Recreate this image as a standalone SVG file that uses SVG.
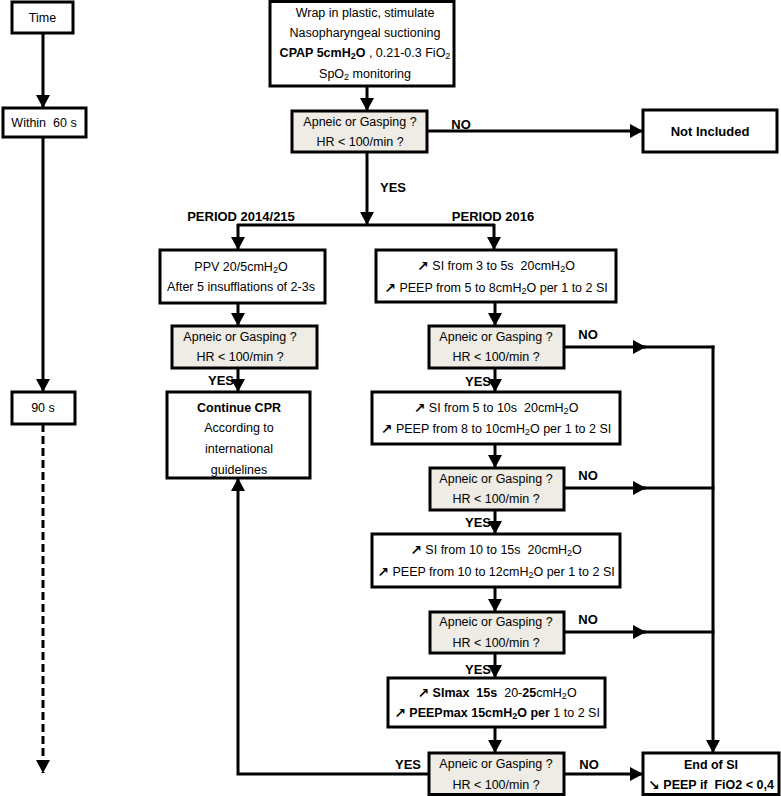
<svg xmlns="http://www.w3.org/2000/svg" width="781" height="796" viewBox="0 0 781 796">
<defs>
<marker id="ah" markerUnits="userSpaceOnUse" markerWidth="16" markerHeight="16" refX="13" refY="7" orient="auto">
<path d="M0,0 L13,7 L0,14 Z" fill="#000"/>
</marker>
<style>
.box{fill:#fff;stroke:#000;stroke-width:3}
.dec{fill:#eeece4;stroke:#000;stroke-width:3}
.ln{fill:none;stroke:#000;stroke-width:3}
.dash{fill:none;stroke:#000;stroke-width:3;stroke-dasharray:8 4}
text{font-family:"Liberation Sans",Arial,sans-serif;font-size:12.5px;fill:#000;text-anchor:middle;dominant-baseline:central}
.b{font-weight:bold;font-size:13px}
.bb{font-weight:bold}
.ar{font-family:"DejaVu Sans",sans-serif;font-weight:bold;font-size:14px}
.s{font-size:9px}
</style>
</defs>
<rect width="781" height="796" fill="#fff"/>

<g id="connectors">
<path class="ln" d="M43,33 V108" marker-end="url(#ah)"/>
<path class="ln" d="M43,137 V392" marker-end="url(#ah)"/>
<path class="dash" d="M43,424 V773" marker-end="url(#ah)"/>
<path class="ln" d="M367,86 V111" marker-end="url(#ah)"/>
<path class="ln" d="M427,131 H643" marker-end="url(#ah)"/>
<path class="ln" d="M367,152 V225" marker-end="url(#ah)"/>
<path class="ln" d="M237,225 H495"/>
<path class="ln" d="M238,224 V250" marker-end="url(#ah)"/>
<path class="ln" d="M494,224 V250" marker-end="url(#ah)"/>
<path class="ln" d="M238,303 V326" marker-end="url(#ah)"/>
<path class="ln" d="M238,368 V392" marker-end="url(#ah)"/>
<path class="ln" d="M495,302 V326" marker-end="url(#ah)"/>
<path class="ln" d="M495,368 V392" marker-end="url(#ah)"/>
<path class="ln" d="M495,444 V468" marker-end="url(#ah)"/>
<path class="ln" d="M495,510 V534" marker-end="url(#ah)"/>
<path class="ln" d="M495,587 V612" marker-end="url(#ah)"/>
<path class="ln" d="M495,653 V678" marker-end="url(#ah)"/>
<path class="ln" d="M495,727 V753" marker-end="url(#ah)"/>
<path class="ln" d="M564,347 H646" marker-end="url(#ah)"/>
<path class="ln" d="M640,347 H714.5"/>
<path class="ln" d="M564,488 H646" marker-end="url(#ah)"/>
<path class="ln" d="M640,488 H714.5"/>
<path class="ln" d="M564,632 H646" marker-end="url(#ah)"/>
<path class="ln" d="M640,632 H714.5"/>
<path class="ln" d="M713,345.5 V753" marker-end="url(#ah)"/>
<path class="ln" d="M564,774 H643" marker-end="url(#ah)"/>
<path class="ln" d="M429,774 H238 V478" marker-end="url(#ah)"/>
<text class="b" x="461" y="124">NO</text>
<text class="b" x="393" y="187">YES</text>
<text class="b" x="241" y="216">PERIOD 2014/215</text>
<text class="b" x="493" y="216">PERIOD 2016</text>
<text class="b" x="221" y="380">YES</text>
<text class="b" x="588" y="334">NO</text>
<text class="b" x="478" y="381">YES</text>
<text class="b" x="588" y="475">NO</text>
<text class="b" x="478" y="522">YES</text>
<text class="b" x="588" y="619">NO</text>
<text class="b" x="478" y="669">YES</text>
<text class="b" x="408" y="764">YES</text>
<text class="b" x="589" y="764">NO</text>
</g>

<g id="time">
<rect class="box" x="12" y="2" width="61" height="31"/>
<text x="42.5" y="18">Time</text>
</g>
<g id="within60">
<rect class="box" x="3" y="108" width="83" height="29"/>
<text x="44" y="123">Within&#160; 60 s</text>
</g>
<g id="t90">
<rect class="box" x="12" y="392" width="63" height="32"/>
<text x="43" y="408">90 s</text>
</g>

<g id="start">
<rect class="box" x="270" y="1.5" width="184" height="84.5"/>
<text x="365" y="13">Wrap in plastic, stimulate</text>
<text x="365" y="33">Nasopharyngeal suctioning</text>
<text x="365" y="53"><tspan class="bb">CPAP 5cmH</tspan><tspan class="s bb" dy="3">2</tspan><tspan class="bb" dy="-3">O</tspan> , 0.21-0.3 FiO<tspan class="s" dy="3">2</tspan></text>
<text x="365" y="74">SpO<tspan class="s" dy="3">2</tspan><tspan dy="-3"> monitoring</tspan></text>
</g>

<g id="dec1">
<rect class="dec" x="292" y="111" width="135" height="41"/>
<text x="360" y="122">Apneic or Gasping ?</text>
<text x="360" y="142">HR &lt; 100/min ?</text>
</g>

<g id="notincluded">
<rect class="box" x="643" y="110" width="134" height="42"/>
<text class="b" x="710" y="131">Not Included</text>
</g>

<g id="ppv">
<rect class="box" x="160" y="250" width="165" height="53"/>
<text x="241" y="267">PPV 20/5cmH<tspan class="s" dy="3">2</tspan><tspan dy="-3">O</tspan></text>
<text x="241" y="287">After 5 insufflations of 2-3s</text>
</g>

<g id="decL">
<rect class="dec" x="172" y="326" width="145" height="42"/>
<text x="240" y="337">Apneic or Gasping ?</text>
<text x="240" y="357">HR &lt; 100/min ?</text>
</g>

<g id="cpr">
<rect class="box" x="167" y="392" width="143" height="86"/>
<text class="bb" x="239" y="408">Continue CPR</text>
<text x="239" y="428">According to</text>
<text x="239" y="449">international</text>
<text x="239" y="470">guidelines</text>
</g>

<g id="si1">
<rect class="box" x="376" y="250" width="240" height="52"/>
<text x="496" y="266"><tspan class="ar">↗</tspan> SI from 3 to 5s&#160; 20cmH<tspan class="s" dy="3">2</tspan><tspan dy="-3">O</tspan></text>
<text x="496" y="288"><tspan class="ar">↗</tspan> PEEP from 5 to 8cmH<tspan class="s" dy="3">2</tspan><tspan dy="-3">O per 1 to 2 SI</tspan></text>
</g>

<g id="dec2">
<rect class="dec" x="429" y="326" width="135" height="42"/>
<text x="496" y="337">Apneic or Gasping ?</text>
<text x="496" y="357">HR &lt; 100/min ?</text>
</g>

<g id="si2">
<rect class="box" x="372" y="392" width="248" height="52"/>
<text x="496" y="408"><tspan class="ar">↗</tspan> SI from 5 to 10s&#160; 20cmH<tspan class="s" dy="3">2</tspan><tspan dy="-3">O</tspan></text>
<text x="496" y="429"><tspan class="ar">↗</tspan> PEEP from 8 to 10cmH<tspan class="s" dy="3">2</tspan><tspan dy="-3">O per 1 to 2 SI</tspan></text>
</g>

<g id="dec3">
<rect class="dec" x="430" y="468" width="134" height="42"/>
<text x="496" y="479">Apneic or Gasping ?</text>
<text x="496" y="499">HR &lt; 100/min ?</text>
</g>

<g id="si3">
<rect class="box" x="372" y="534" width="248" height="53"/>
<text x="496" y="550"><tspan class="ar">↗</tspan> SI from 10 to 15s&#160; 20cmH<tspan class="s" dy="3">2</tspan><tspan dy="-3">O</tspan></text>
<text x="496" y="572"><tspan class="ar">↗</tspan> PEEP from 10 to 12cmH<tspan class="s" dy="3">2</tspan><tspan dy="-3">O per 1 to 2 SI</tspan></text>
</g>

<g id="dec4">
<rect class="dec" x="430" y="612" width="134" height="41"/>
<text x="496" y="622">Apneic or Gasping ?</text>
<text x="496" y="643">HR &lt; 100/min ?</text>
</g>

<g id="si4">
<rect class="box" x="388" y="678" width="217" height="49"/>
<text x="497" y="693"><tspan class="ar">↗</tspan><tspan class="bb"> SImax&#160; 15s</tspan>&#160; 20-<tspan class="bb">25</tspan>cmH<tspan class="s" dy="3">2</tspan><tspan dy="-3">O</tspan></text>
<text x="497" y="713"><tspan class="ar">↗</tspan><tspan class="bb"> PEEPmax 15cmH</tspan><tspan class="s bb" dy="3">2</tspan><tspan class="bb" dy="-3">O per</tspan> 1 to 2 SI</text>
</g>

<g id="dec5">
<rect class="dec" x="429" y="753" width="135" height="41.5"/>
<text x="496" y="764">Apneic or Gasping ?</text>
<text x="496" y="785">HR &lt; 100/min ?</text>
</g>

<g id="endsi">
<rect class="box" x="643" y="753" width="136" height="41.5"/>
<text class="bb" x="711" y="765">End of SI</text>
<text class="bb" x="711" y="785"><tspan class="ar">↘</tspan> PEEP if&#160; FiO2 &lt; 0,4</text>
</g>
</svg>
